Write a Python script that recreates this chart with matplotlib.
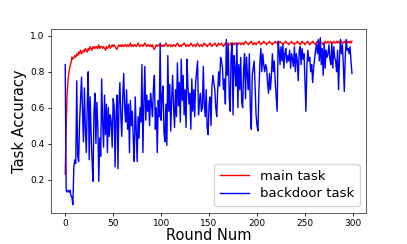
import numpy as np
import matplotlib
matplotlib.use("Agg")
import matplotlib.pyplot as plt

# === Data ===
main_task = [
    0.23, 0.50, 0.68, 0.76, 0.80, 0.83, 0.85, 0.88, 0.87, 0.88,
    0.89, 0.88, 0.90, 0.89, 0.91, 0.90, 0.92, 0.90, 0.91, 0.92,
    0.91, 0.93, 0.92, 0.91, 0.93, 0.92, 0.94, 0.93, 0.92, 0.94,
    0.93, 0.94, 0.93, 0.94, 0.93, 0.95, 0.93, 0.94, 0.94, 0.93,
    0.94, 0.93, 0.92, 0.94, 0.93, 0.94, 0.95, 0.93, 0.94, 0.95,
    0.94, 0.95, 0.94, 0.93, 0.925, 0.94, 0.95, 0.94, 0.95, 0.94,
    0.95, 0.94, 0.95, 0.95, 0.94, 0.95, 0.94, 0.95, 0.96, 0.94,
    0.95, 0.94, 0.95, 0.95, 0.94, 0.95, 0.96, 0.95, 0.94, 0.95,
    0.95, 0.94, 0.95, 0.96, 0.95, 0.94, 0.95, 0.95, 0.94, 0.95,
    0.94, 0.95, 0.93, 0.925, 0.94, 0.95, 0.94, 0.95, 0.95, 0.94,
    0.95, 0.94, 0.95, 0.94, 0.95, 0.96, 0.95, 0.94, 0.95, 0.95,
    0.94, 0.95, 0.94, 0.95, 0.95, 0.94, 0.95, 0.96, 0.95, 0.94,
    0.95, 0.94, 0.95, 0.95, 0.96, 0.95, 0.94, 0.95, 0.95, 0.94,
    0.95, 0.96, 0.95, 0.94, 0.95, 0.95, 0.94, 0.95, 0.96, 0.95,
    0.94, 0.95, 0.95, 0.94, 0.95, 0.96, 0.95, 0.95, 0.94, 0.95,
    0.95, 0.96, 0.95, 0.94, 0.95, 0.95, 0.96, 0.95, 0.94, 0.95,
    0.96, 0.95, 0.95, 0.96, 0.95, 0.94, 0.95, 0.96, 0.95, 0.95,
    0.96, 0.95, 0.95, 0.96, 0.96, 0.95, 0.96, 0.95, 0.96, 0.96,
    0.95, 0.96, 0.96, 0.95, 0.96, 0.96, 0.95, 0.96, 0.97, 0.96,
    0.96, 0.95, 0.96, 0.96, 0.97, 0.96, 0.95, 0.96, 0.96, 0.95,
    0.96, 0.96, 0.97, 0.96, 0.95, 0.96, 0.96, 0.97, 0.96, 0.96,
    0.95, 0.96, 0.96, 0.97, 0.96, 0.96, 0.95, 0.96, 0.96, 0.97,
    0.96, 0.96, 0.95, 0.96, 0.97, 0.96, 0.96, 0.95, 0.96, 0.96,
    0.97, 0.96, 0.96, 0.95, 0.96, 0.96, 0.97, 0.96, 0.96, 0.95,
    0.96, 0.96, 0.97, 0.96, 0.96, 0.95, 0.96, 0.97, 0.96, 0.96,
    0.95, 0.96, 0.96, 0.97, 0.96, 0.95, 0.96, 0.96, 0.97, 0.96,
    0.96, 0.95, 0.96, 0.97, 0.96, 0.96, 0.97, 0.96, 0.96, 0.95,
    0.96, 0.97, 0.96, 0.96, 0.97, 0.96, 0.96, 0.97, 0.96, 0.96,
    0.97, 0.96, 0.96, 0.97, 0.96, 0.97, 0.96, 0.96, 0.97, 0.96,
    0.96, 0.97, 0.96, 0.97, 0.96, 0.97, 0.96, 0.97, 0.96, 0.97,
]

backdoor_task = [
    0.84, 0.14, 0.13, 0.14, 0.13, 0.14, 0.11, 0.10, 0.06, 0.27,
    0.31, 0.29, 0.75, 0.33, 0.30, 0.52, 0.64, 0.77, 0.58, 0.41,
    0.71, 0.48, 0.35, 0.62, 0.80, 0.31, 0.66, 0.45, 0.30, 0.19,
    0.58, 0.68, 0.40, 0.63, 0.50, 0.19, 0.43, 0.33, 0.76, 0.52,
    0.38, 0.67, 0.45, 0.62, 0.35, 0.60, 0.44, 0.56, 0.52, 0.38,
    0.65, 0.61, 0.27, 0.56, 0.67, 0.26, 0.62, 0.74, 0.55, 0.44,
    0.66, 0.79, 0.60, 0.52, 0.70, 0.48, 0.62, 0.35, 0.64, 0.50,
    0.58, 0.42, 0.30, 0.66, 0.48, 0.30, 0.55, 0.43, 0.60, 0.52,
    0.84, 0.35, 0.62, 0.83, 0.53, 0.67, 0.58, 0.64, 0.50, 0.68,
    0.62, 0.55, 0.71, 0.78, 0.48, 0.60, 0.35, 0.64, 0.55, 0.96,
    0.53, 0.66, 0.72, 0.46, 0.41, 0.62, 0.39, 0.89, 0.58, 0.73,
    0.47, 0.65, 0.78, 0.60, 0.49, 0.70, 0.55, 0.85, 0.61, 0.74,
    0.52, 0.87, 0.64, 0.78, 0.56, 0.70, 0.49, 0.87, 0.72, 0.62,
    0.68, 0.48, 0.76, 0.58, 0.70, 0.55, 0.74, 0.80, 0.86, 0.56,
    0.64, 0.68, 0.58, 0.60, 0.83, 0.62, 0.55, 0.70, 0.49, 0.45,
    0.62, 0.66, 0.50, 0.72, 0.78, 0.74, 0.70, 0.60, 0.55, 0.70,
    0.80, 0.72, 0.88, 0.86, 0.82, 0.70, 0.76, 0.62, 0.98, 0.78,
    0.95, 0.66, 0.58, 0.90, 0.96, 0.56, 0.89, 0.82, 0.72, 0.96,
    0.60, 0.84, 0.70, 0.88, 0.63, 0.60, 0.81, 0.90, 0.65, 0.88,
    0.78, 0.70, 0.90, 0.60, 0.48, 0.78, 0.82, 0.86, 0.72, 0.56,
    0.50, 0.47, 0.70, 0.85, 0.93, 0.80, 0.90, 0.84, 0.80, 0.84,
    0.82, 0.74, 0.68, 0.79, 0.70, 0.78, 0.90, 0.80, 0.86, 0.74,
    0.66, 0.58, 0.97, 0.92, 0.84, 0.94, 0.86, 0.95, 0.82, 0.90,
    0.93, 0.85, 0.89, 0.86, 0.92, 0.82, 0.90, 0.87, 0.83, 0.94,
    0.80, 0.90, 0.86, 0.75, 0.92, 0.94, 0.84, 0.93, 0.87, 0.90,
    0.75, 0.58, 0.83, 0.92, 0.86, 0.88, 0.80, 0.84, 0.74, 0.82,
    0.87, 0.92, 0.95, 0.90, 0.98, 0.86, 0.99, 0.84, 0.93, 0.78,
    0.96, 0.82, 0.92, 0.88, 0.90, 0.95, 0.87, 0.84, 0.96, 0.82,
    0.94, 0.88, 0.86, 0.80, 0.92, 0.70, 0.87, 0.98, 0.90, 0.95,
    0.84, 0.69, 0.88, 0.98, 0.92, 0.93, 0.90, 0.94, 0.86, 0.79,
]

rounds = np.arange(len(main_task))

# === Plot ===
fig, ax = plt.subplots(figsize=(4.07, 2.44), dpi=100)
fig.subplots_adjust(left=0.125, right=0.9, top=0.88, bottom=0.127)

ax.plot(rounds, main_task, color="red", lw=1.0, label="main task")
ax.plot(rounds, backdoor_task, color="blue", lw=1.0, label="backdoor task")

ax.set_xlabel("Round Num", fontsize=10.5, labelpad=0)
ax.set_ylabel("Task Accuracy", fontsize=10.5, labelpad=2)
ax.set_xticks([0, 50, 100, 150, 200, 250, 300])
ax.set_yticks([0.2, 0.4, 0.6, 0.8, 1.0])
ax.tick_params(labelsize=6.5, length=2.5, width=0.6, pad=2)
for sp in ax.spines.values():
    sp.set_linewidth(0.6)
    sp.set_color("#444444")

ax.legend(loc="lower right", fontsize=9.5, handlelength=2.2, borderpad=0.45,
          labelspacing=0.35)

fig.savefig("out.png", dpi=100)
